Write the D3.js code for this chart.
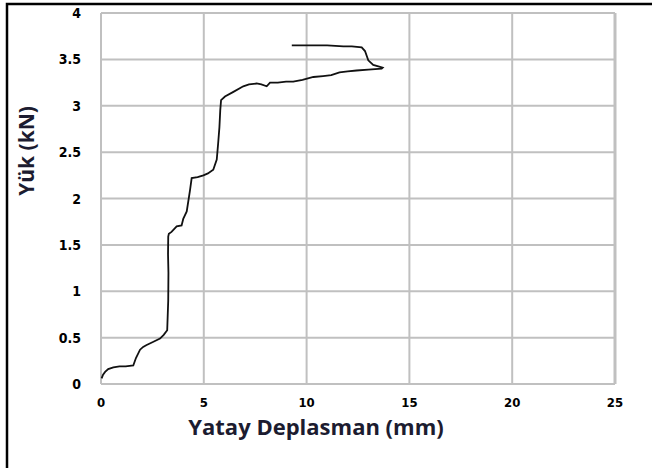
<!DOCTYPE html>
<meta charset="utf-8">
<style>
  body { margin: 0; background: #fff; }
  svg { display: block; }
</style>
<script src="https://cdn.jsdelivr.net/npm/d3@7"></script>
<div id="chart"></div>
<script>

// displacement (mm) vs load (kN)
var disp = [0.03, 0.1, 0.2, 0.35, 0.6, 0.9, 1.2, 1.57, 1.7, 1.9, 2.05, 2.22, 2.5, 2.87, 3.05, 3.22, 3.27, 3.28, 3.26, 3.27, 3.3, 3.43, 3.68, 3.92, 4.0, 4.17, 4.33, 4.41, 4.7, 4.98, 5.2, 5.46, 5.63, 5.7, 5.76, 5.8, 5.84, 6.03, 6.44, 6.92, 7.2, 7.57, 7.8, 8.06, 8.22, 8.6, 9.0, 9.35, 9.8, 10.33, 10.8, 11.2, 11.6, 12.0, 12.43, 13.0, 13.65, 13.7, 13.24, 13.0, 12.84, 12.68, 12.2, 11.79, 11.0, 10.0, 9.28]
var load = [0.06, 0.1, 0.13, 0.16, 0.18, 0.19, 0.19, 0.2, 0.28, 0.37, 0.4, 0.42, 0.45, 0.49, 0.53, 0.58, 0.9, 1.2, 1.4, 1.59, 1.62, 1.64, 1.7, 1.71, 1.78, 1.86, 2.09, 2.22, 2.23, 2.25, 2.27, 2.31, 2.42, 2.6, 2.77, 2.95, 3.06, 3.1, 3.15, 3.21, 3.23, 3.24, 3.23, 3.21, 3.25, 3.25, 3.26, 3.26, 3.28, 3.31, 3.32, 3.33, 3.36, 3.37, 3.38, 3.39, 3.4, 3.41, 3.44, 3.49, 3.59, 3.63, 3.64, 3.64, 3.65, 3.65, 3.65]

var xTicks = [0, 5, 10, 15, 20, 25]
var yTicks = [0, 0.5, 1, 1.5, 2, 2.5, 3, 3.5, 4]

var width = 652,
    height = 468

var svg = d3.select("#chart")
  .append("svg")
    .attr("width", width)
    .attr("height", height)

// outer frame
svg.append("path")
  .attr("d", "M7,470 L7,4 L660,4")
  .attr("fill", "none")
  .attr("stroke", "#000")
  .attr("stroke-width", 2.5)

var x = d3.scaleLinear().domain([0, 25]).range([101, 615])
var y = d3.scaleLinear().domain([0, 4]).range([384, 13])

// grid
svg.append("g")
  .selectAll("line.v")
  .data(xTicks)
  .enter().append("line")
    .attr("x1", function(d) { return x(d) })
    .attr("x2", function(d) { return x(d) })
    .attr("y1", y(0))
    .attr("y2", y(4))
    .attr("stroke", "#c0c0c0")
    .attr("stroke-width", function(d) { return d == 25 ? 3 : 2 })

svg.append("g")
  .selectAll("line.h")
  .data(yTicks)
  .enter().append("line")
    .attr("x1", x(0))
    .attr("x2", x(25))
    .attr("y1", function(d) { return y(d) })
    .attr("y2", function(d) { return y(d) })
    .attr("stroke", "#c0c0c0")
    .attr("stroke-width", 2)

// tick labels
var tickFont = "'Liberation Sans Narrow', 'DejaVu Sans Condensed', sans-serif"

svg.append("g")
  .selectAll("text")
  .data(yTicks)
  .enter().append("text")
    .attr("x", 81)
    .attr("y", function(d) { return y(d) + 5 })
    .attr("text-anchor", "end")
    .style("font-family", tickFont)
    .style("font-weight", "bold")
    .style("font-size", "14px")
    .text(function(d) { return d })

svg.append("g")
  .selectAll("text")
  .data(xTicks)
  .enter().append("text")
    .attr("x", function(d) { return x(d) })
    .attr("y", 407)
    .attr("text-anchor", "middle")
    .style("font-family", tickFont)
    .style("font-weight", "bold")
    .style("font-size", "13px")
    .text(function(d) { return d })

// axis titles
svg.append("text")
  .attr("x", 316)
  .attr("y", 435)
  .attr("text-anchor", "middle")
  .style("font-family", "'Open Sans', sans-serif")
  .style("font-weight", "bold")
  .style("font-size", "22px")
  .attr("fill", "#1c1c30")
  .text("Yatay Deplasman (mm)")

svg.append("text")
  .attr("transform", "translate(34,151) rotate(-90)")
  .attr("text-anchor", "middle")
  .style("font-family", "'Open Sans', sans-serif")
  .style("font-weight", "bold")
  .style("font-size", "21px")
  .attr("fill", "#1c1c30")
  .text("Yük (kN)")

// curve
var pts = disp.map(function(d, i) { return [d, load[i]] })

svg.append("path")
  .datum(pts)
  .attr("fill", "none")
  .attr("stroke", "#111")
  .attr("stroke-width", 1.8)
  .attr("d", d3.line()
    .x(function(d) { return x(d[0]) })
    .y(function(d) { return y(d[1]) }))

</script>
